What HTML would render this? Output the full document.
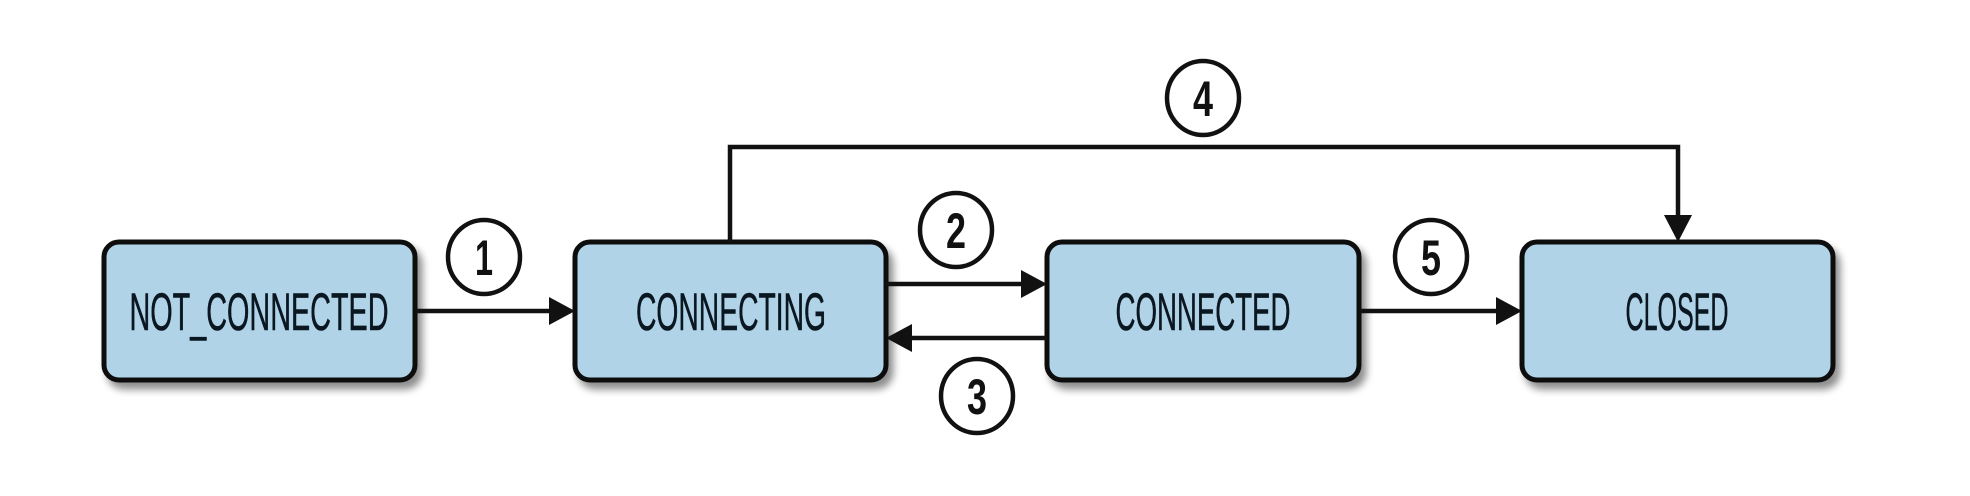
<!DOCTYPE html>
<html><head><meta charset="utf-8"><style>html,body{margin:0;padding:0;background:#fff}svg{display:block}</style></head>
<body>
<svg width="1970" height="496" viewBox="0 0 1970 496" xmlns="http://www.w3.org/2000/svg">
<defs>
<filter id="sh" x="-10%" y="-10%" width="130%" height="140%">
<feGaussianBlur in="SourceAlpha" stdDeviation="4"/>
<feOffset dx="5" dy="7"/>
<feComponentTransfer><feFuncA type="linear" slope="0.45"/></feComponentTransfer>
<feMerge><feMergeNode/><feMergeNode in="SourceGraphic"/></feMerge>
</filter>
</defs>
<g fill="#b0d3e8" stroke="#111" stroke-width="5" filter="url(#sh)">
<rect x="104" y="242" width="311" height="138" rx="15"/>
<rect x="575" y="242" width="311" height="138" rx="15"/>
<rect x="1047" y="242" width="312" height="138" rx="15"/>
<rect x="1522" y="242" width="311" height="138" rx="15"/>
</g>
<g font-family="Liberation Sans, sans-serif" font-size="53" fill="#0a1620" stroke="#0a1620" stroke-width="0.6" text-anchor="middle">
<text x="259" y="330" textLength="259" lengthAdjust="spacingAndGlyphs">NOT_CONNECTED</text>
<text x="731" y="330" textLength="190" lengthAdjust="spacingAndGlyphs">CONNECTING</text>
<text x="1203" y="330" textLength="175" lengthAdjust="spacingAndGlyphs">CONNECTED</text>
<text x="1677" y="330" textLength="103" lengthAdjust="spacingAndGlyphs">CLOSED</text>
</g>
<g stroke="#111" stroke-width="4.5" fill="none">
<line x1="415" y1="311" x2="550" y2="311"/>
<line x1="886" y1="284" x2="1022" y2="284"/>
<line x1="1047" y1="338" x2="912" y2="338"/>
<line x1="1359" y1="311" x2="1497" y2="311"/>
<polyline points="730,242 730,147 1678,147 1678,217"/>
</g>
<g fill="#111">
<polygon points="575,311 549,297 549,325"/>
<polygon points="1047,284 1021,270 1021,298"/>
<polygon points="886,338 912,324 912,352"/>
<polygon points="1522,311 1496,297 1496,325"/>
<polygon points="1678,242 1664,215 1692,215"/>
</g>
<g fill="#fff" stroke="#111" stroke-width="4.5">
<ellipse cx="484" cy="257" rx="36" ry="37"/>
<ellipse cx="956" cy="230" rx="36" ry="37"/>
<ellipse cx="977" cy="396" rx="36" ry="37"/>
<ellipse cx="1203" cy="98" rx="36" ry="37"/>
<ellipse cx="1431" cy="257" rx="36" ry="37"/>
</g>
<g font-family="Liberation Sans, sans-serif" font-weight="bold" font-size="50" fill="#111" text-anchor="middle">
<text x="484" y="275" textLength="18" lengthAdjust="spacingAndGlyphs">1</text>
<text x="956" y="248" textLength="20" lengthAdjust="spacingAndGlyphs">2</text>
<text x="977" y="414" textLength="20" lengthAdjust="spacingAndGlyphs">3</text>
<text x="1203" y="116" textLength="20" lengthAdjust="spacingAndGlyphs">4</text>
<text x="1431" y="275" textLength="20" lengthAdjust="spacingAndGlyphs">5</text>
</g>
</svg>
</body></html>
